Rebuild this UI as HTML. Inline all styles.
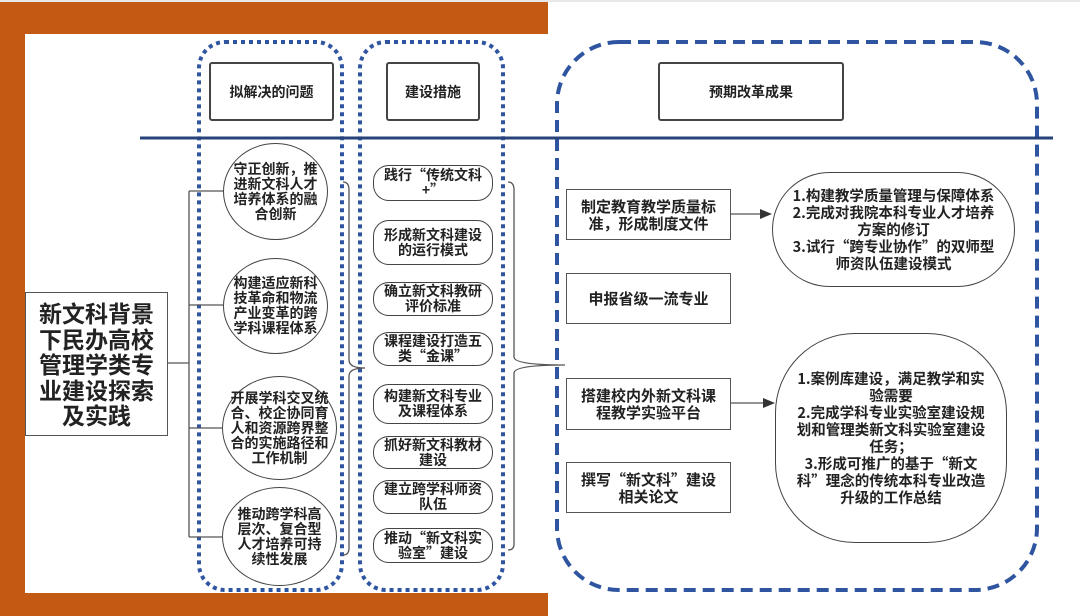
<!DOCTYPE html>
<html><head><meta charset="utf-8"><style>
body{margin:0;width:1080px;height:616px;overflow:hidden;background:#fff;position:relative;font-family:"Noto Sans CJK SC","Liberation Sans",sans-serif;}
.a{position:absolute;box-sizing:border-box;display:flex;align-items:center;justify-content:center;text-align:center;font-weight:bold;color:#222;white-space:nowrap;}
.hd{border:2px solid #444;border-radius:3px;font-size:14px;}
.c{border:1.3px solid #444;border-radius:50%;font-size:14px;line-height:15px;}
.p{border:1.3px solid #444;border-radius:16px;font-size:14px;line-height:15px;}
.r{border:1.3px solid #555;font-size:15px;line-height:17px;}
.e{border:1.5px solid #444;font-size:14.5px;line-height:17px;}
</style></head><body>
<div style="position:absolute;left:0;top:0;width:1080px;height:2px;background:#e8e8e8"></div>
<div style="position:absolute;left:0;top:2px;width:548px;height:614px;background:#c25a14"></div>
<div style="position:absolute;left:25px;top:34px;width:1012px;height:559px;background:#fff"></div>
<svg style="position:absolute;left:0;top:0" width="1080" height="616">
<rect x="199" y="42" width="143" height="548" rx="26" fill="none" stroke="#2f55a0" stroke-width="4" stroke-dasharray="4 4"/>
<rect x="360" y="42" width="143" height="548" rx="26" fill="none" stroke="#2f55a0" stroke-width="4" stroke-dasharray="4 4"/>
<rect x="557" y="42" width="480" height="548" rx="62" fill="none" stroke="#2f55a0" stroke-width="4" stroke-dasharray="12 7"/>
<line x1="140" y1="138" x2="1053" y2="138" stroke="#27437a" stroke-width="3"/>
<g stroke="#555" stroke-width="1.3" fill="none">
<line x1="168" y1="363" x2="189" y2="363"/>
<line x1="189" y1="191" x2="189" y2="537"/>
<line x1="189" y1="191" x2="223" y2="191"/>
<line x1="189" y1="305" x2="223" y2="305"/>
<line x1="189" y1="428" x2="222" y2="428"/>
<line x1="189" y1="537" x2="222" y2="537"/>
<path d="M343 182 Q349 182 349 190 L349 360 Q349 368 365 368 Q349 368 349 376 L349 548 Q349 555 343 555"/>
<path d="M508 182 Q514 182 514 190 L514 357 Q514 365 565 365 Q514 365 514 373 L514 544 Q514 550 508 550"/>
<line x1="731" y1="214" x2="766" y2="214"/>
<line x1="731" y1="403" x2="769" y2="403"/>
</g>
<polygon points="772,214 760,209 760,219" fill="#333"/>
<polygon points="775,403 763,398 763,408" fill="#333"/>
</svg>
<div class="a" style="left:25px;top:292px;width:143px;height:144px;border:1.5px solid #555;font-size:23px;line-height:25.5px">新文科背景<br>下民办高校<br>管理学类专<br>业建设探索<br>及实践</div>
<div class="a hd" style="left:209px;top:62px;width:125px;height:59px">拟解决的问题</div>
<div class="a hd" style="left:386px;top:62px;width:94px;height:59px">建设措施</div>
<div class="a hd" style="left:658px;top:62px;width:186px;height:59px">预期改革成果</div>
<div class="a c" style="left:223px;top:143px;width:105px;height:97px">守正创新，推<br>进新文科人才<br>培养体系的融<br>合创新</div>
<div class="a c" style="left:223px;top:258px;width:105px;height:96px">构建适应新科<br>技革命和物流<br>产业变革的跨<br>学科课程体系</div>
<div class="a c" style="left:222px;top:376px;width:115px;height:104px">开展学科交叉统<br>合、校企协同育<br>人和资源跨界整<br>合的实施路径和<br>工作机制</div>
<div class="a c" style="left:222px;top:487px;width:115px;height:99px">推动跨学科高<br>层次、复合型<br>人才培养可持<br>续性发展</div>
<div class="a p" style="left:373px;top:165px;width:120px;height:36px">践行“传统文科<br>+”</div>
<div class="a p" style="left:373px;top:220px;width:120px;height:45px">形成新文科建设<br>的运行模式</div>
<div class="a p" style="left:373px;top:282px;width:120px;height:34px">确立新文科教研<br>评价标准</div>
<div class="a p" style="left:373px;top:332px;width:120px;height:34px">课程建设打造五<br>类“金课”</div>
<div class="a p" style="left:373px;top:384px;width:120px;height:40px">构建新文科专业<br>及课程体系</div>
<div class="a p" style="left:373px;top:436px;width:120px;height:33px">抓好新文科教材<br>建设</div>
<div class="a p" style="left:373px;top:480px;width:120px;height:34px">建立跨学科师资<br>队伍</div>
<div class="a p" style="left:373px;top:528px;width:120px;height:35px">推动“新文科实<br>验室”建设</div>
<div class="a r" style="left:566px;top:189px;width:165px;height:51px">制定教育教学质量标<br>准，形成制度文件</div>
<div class="a r" style="left:566px;top:273px;width:165px;height:51px">申报省级一流专业</div>
<div class="a r" style="left:566px;top:378px;width:165px;height:52px">搭建校内外新文科课<br>程教学实验平台</div>
<div class="a r" style="left:566px;top:462px;width:165px;height:51px">撰写“新文科”建设<br>相关论文</div>
<div class="a e" style="left:772px;top:172px;width:243px;height:115px;border-radius:58px">1.构建教学质量管理与保障体系<br>2.完成对我院本科专业人才培养<br>方案的修订<br>3.试行“跨专业协作”的双师型<br>师资队伍建设模式</div>
<div class="a e" style="left:775px;top:333px;width:232px;height:210px;border-radius:80px">1.案例库建设，满足教学和实<br>验需要<br>2.完成学科专业实验室建设规<br>划和管理类新文科实验室建设<br>任务；<br>3.形成可推广的基于“新文<br>科”理念的传统本科专业改造<br>升级的工作总结</div>
</body></html>
